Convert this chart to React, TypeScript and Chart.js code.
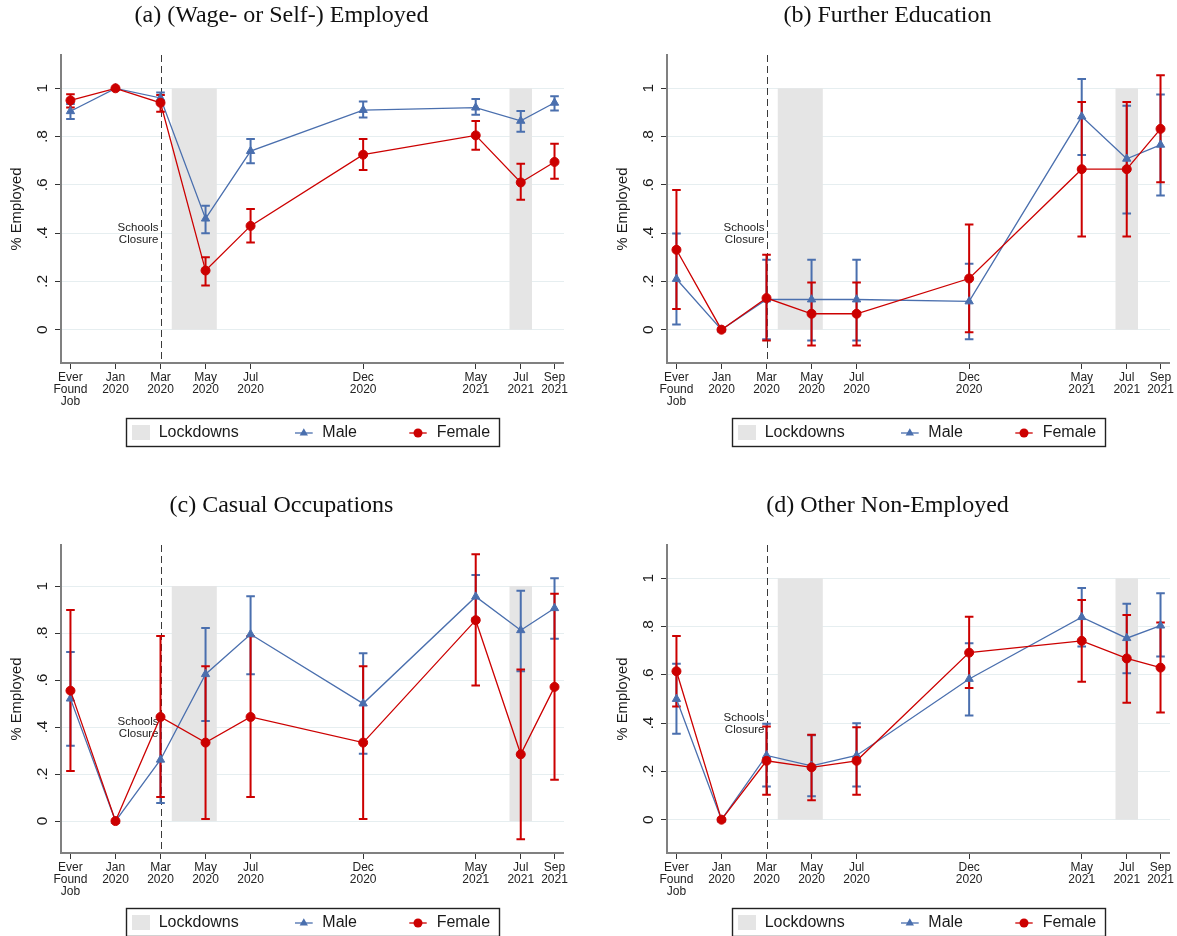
import React, { useEffect, useRef } from 'react';
import { Chart, registerables } from 'chart.js';

Chart.register(...registerables);

// ---------- data ----------
const xPositions = [-2, 0, 2, 4, 6, 11, 16, 18, 19.5];
const xTickLabels = [
  ['Ever', 'Found', 'Job'],
  ['Jan', '2020'],
  ['Mar', '2020'],
  ['May', '2020'],
  ['Jul', '2020'],
  ['Dec', '2020'],
  ['May', '2021'],
  ['Jul', '2021'],
  ['Sep', '2021'],
];
const yTickValues = [0, 0.2, 0.4, 0.6, 0.8, 1];
const yTickLabels = ['0', '.2', '.4', '.6', '.8', '1'];
const lockdownPeriods = [
  [2.5, 4.5],
  [17.5, 18.5],
];
const schoolsClosureX = 2;

const panelTitles = [
  '(a) (Wage- or Self-) Employed',
  '(b) Further Education',
  '(c) Casual Occupations',
  '(d) Other Non-Employed',
];

// (a) Wage- or Self-Employed
const aMale = [0.905, 1.0, 0.96, 0.46, 0.74, 0.91, 0.92, 0.865, 0.94];
const aMaleLo = [0.873, 1.0, 0.94, 0.4, 0.69, 0.879, 0.89, 0.82, 0.908];
const aMaleHi = [0.935, 1.0, 0.983, 0.513, 0.79, 0.945, 0.956, 0.906, 0.967];
const aFemale = [0.95, 1.0, 0.94, 0.245, 0.43, 0.725, 0.805, 0.61, 0.695];
const aFemaleLo = [0.92, 1.0, 0.903, 0.183, 0.361, 0.662, 0.745, 0.538, 0.625];
const aFemaleHi = [0.975, 1.0, 0.972, 0.3, 0.5, 0.79, 0.865, 0.687, 0.77];

// (b) Further Education
const bMale = [0.21, 0, 0.125, 0.125, 0.125, 0.117, 0.883, 0.708, 0.766];
const bMaleLo = [0.021, 0, -0.04, -0.045, -0.045, -0.04, 0.724, 0.481, 0.556];
const bMaleHi = [0.399, 0, 0.29, 0.29, 0.29, 0.273, 1.039, 0.928, 0.974];
const bFemale = [0.331, 0, 0.131, 0.066, 0.066, 0.212, 0.665, 0.665, 0.832];
const bFemaleLo = [0.086, 0, -0.045, -0.065, -0.065, -0.011, 0.386, 0.386, 0.611];
const bFemaleHi = [0.579, 0, 0.31, 0.195, 0.195, 0.436, 0.943, 0.943, 1.054];

// (c) Casual Occupations
const cMale = [0.521, 0, 0.261, 0.625, 0.795, 0.5, 0.955, 0.812, 0.906];
const cMaleLo = [0.32, 0, 0.077, 0.426, 0.625, 0.286, 0.863, 0.638, 0.776];
const cMaleHi = [0.72, 0, 0.445, 0.822, 0.957, 0.714, 1.047, 0.98, 1.033];
const cFemale = [0.555, 0, 0.443, 0.334, 0.443, 0.334, 0.855, 0.284, 0.571];
const cFemaleLo = [0.213, 0, 0.102, 0.009, 0.102, 0.009, 0.577, -0.078, 0.176];
const cFemaleHi = [0.898, 0, 0.788, 0.659, 0.787, 0.659, 1.136, 0.645, 0.967];

// (d) Other Non-Employed
const dMale = [0.5, 0, 0.266, 0.223, 0.266, 0.583, 0.839, 0.752, 0.804];
const dMaleLo = [0.356, 0, 0.138, 0.097, 0.138, 0.432, 0.717, 0.607, 0.676];
const dMaleHi = [0.646, 0, 0.397, 0.35, 0.4, 0.731, 0.96, 0.895, 0.938];
const dFemale = [0.615, 0, 0.244, 0.217, 0.244, 0.692, 0.741, 0.668, 0.63];
const dFemaleLo = [0.469, 0, 0.103, 0.081, 0.103, 0.546, 0.571, 0.484, 0.444];
const dFemaleHi = [0.761, 0, 0.386, 0.352, 0.383, 0.841, 0.91, 0.848, 0.817];

// ---------- styles ----------
const BLUE = '#4a6fae';
const RED = '#cc0000';
const SHADE = '#e5e5e5';
const GRID = '#e6eef0';
const AXIS = '#808080';
const TEXT = '#1a1a1a';
const SANS = '"Liberation Sans", Arial, Helvetica, sans-serif';
const SERIF = '"Liberation Serif", "Times New Roman", serif';

const X_MIN = -2.42;
const X_MAX = 19.92;

type PanelProps = {
  title: string;
  male: number[];
  maleLo: number[];
  maleHi: number[];
  female: number[];
  femaleLo: number[];
  femaleHi: number[];
  yMin: number;
  yMax: number;
  left: number;
  top: number;
  width: number;
  height: number;
};

function drawTriangle(ctx: CanvasRenderingContext2D, x: number, y: number, r: number) {
  ctx.beginPath();
  for (let k = 0; k < 3; k++) {
    const a = -Math.PI / 2 + (k * 2 * Math.PI) / 3;
    const px = x + Math.cos(a) * r;
    const py = y + Math.sin(a) * r;
    if (k === 0) ctx.moveTo(px, py);
    else ctx.lineTo(px, py);
  }
  ctx.closePath();
  ctx.fill();
}

function Panel(p: PanelProps) {
  const ref = useRef<HTMLCanvasElement | null>(null);
  useEffect(() => {
    const canvas = ref.current;
    if (!canvas) return;

    const panelPlugin = {
      id: 'panelDecor',
      beforeDatasetsDraw(chart: any) {
        const ctx = chart.ctx as CanvasRenderingContext2D;
        const xs = chart.scales.x;
        const ys = chart.scales.y;
        const area = chart.chartArea;
        ctx.save();
        // lockdown shading
        ctx.fillStyle = SHADE;
        lockdownPeriods.forEach(([a, b]) => {
          const x0 = xs.getPixelForValue(a);
          const x1 = xs.getPixelForValue(b);
          const y1 = ys.getPixelForValue(1);
          const y0 = ys.getPixelForValue(0);
          ctx.fillRect(x0, y1, x1 - x0, y0 - y1);
        });
        // schools closure dashed line
        const sx = Math.round(xs.getPixelForValue(schoolsClosureX)) + 0.5;
        ctx.strokeStyle = '#3a3a3a';
        ctx.lineWidth = 1;
        ctx.setLineDash([7, 4]);
        ctx.beginPath();
        ctx.moveTo(sx, area.top);
        ctx.lineTo(sx, area.bottom);
        ctx.stroke();
        ctx.setLineDash([]);
        // label
        ctx.fillStyle = '#222';
        ctx.font = `11.5px ${SANS}`;
        ctx.textAlign = 'right';
        ctx.textBaseline = 'middle';
        const ly = ys.getPixelForValue(0.396);
        ctx.fillText('Schools', sx - 3, ly - 6);
        ctx.fillText('Closure', sx - 3, ly + 6);
        // error bars
        const series = [
          { lo: p.maleLo, hi: p.maleHi, color: BLUE },
          { lo: p.femaleLo, hi: p.femaleHi, color: RED },
        ];
        series.forEach((s) => {
          ctx.strokeStyle = s.color;
          ctx.lineWidth = 2;
          xPositions.forEach((xv, i) => {
            const px = xs.getPixelForValue(xv);
            const pl = ys.getPixelForValue(s.lo[i]);
            const ph = ys.getPixelForValue(s.hi[i]);
            ctx.beginPath();
            ctx.moveTo(px, pl);
            ctx.lineTo(px, ph);
            ctx.moveTo(px - 4.3, pl);
            ctx.lineTo(px + 4.3, pl);
            ctx.moveTo(px - 4.3, ph);
            ctx.lineTo(px + 4.3, ph);
            ctx.stroke();
          });
        });
        ctx.restore();
      },
      afterDraw(chart: any) {
        const ctx = chart.ctx as CanvasRenderingContext2D;
        const ys = chart.scales.y;
        const area = chart.chartArea;
        ctx.save();
        // y tick labels (rotated)
        ctx.fillStyle = TEXT;
        ctx.font = `15.5px ${SANS}`;
        ctx.textAlign = 'center';
        ctx.textBaseline = 'middle';
        yTickValues.forEach((v, i) => {
          const py = ys.getPixelForValue(v);
          ctx.save();
          ctx.translate(43, py);
          ctx.rotate(-Math.PI / 2);
          ctx.fillText(yTickLabels[i], 0, 0);
          ctx.restore();
        });
        // y axis title
        ctx.save();
        ctx.font = `14.8px ${SANS}`;
        ctx.translate(17, (area.top + area.bottom) / 2);
        ctx.rotate(-Math.PI / 2);
        ctx.fillText('% Employed', 0, 0);
        ctx.restore();
        // panel title
        ctx.font = `24px ${SERIF}`;
        ctx.fillStyle = '#111';
        ctx.textAlign = 'center';
        ctx.textBaseline = 'middle';
        ctx.fillText(p.title, 281.5, 16);
        // legend
        const lx = 126.5;
        const ly = 418.5;
        ctx.fillStyle = '#fff';
        ctx.fillRect(lx, ly, 373, 28);
        ctx.strokeStyle = '#222';
        ctx.lineWidth = 1.4;
        ctx.strokeRect(lx, ly, 373, 28);
        const cy = 433;
        ctx.fillStyle = SHADE;
        ctx.fillRect(132, 425, 18, 15);
        ctx.fillStyle = TEXT;
        ctx.font = `16px ${SANS}`;
        ctx.textAlign = 'left';
        ctx.textBaseline = 'middle';
        ctx.fillText('Lockdowns', 158.7, cy);
        // male key
        ctx.strokeStyle = BLUE;
        ctx.lineWidth = 1.3;
        ctx.beginPath();
        ctx.moveTo(295, cy);
        ctx.lineTo(312.7, cy);
        ctx.stroke();
        ctx.fillStyle = BLUE;
        drawTriangle(ctx, 303.8, cy, 4.8);
        ctx.fillStyle = TEXT;
        ctx.fillText('Male', 322.3, cy);
        // female key
        ctx.strokeStyle = RED;
        ctx.beginPath();
        ctx.moveTo(409.3, cy);
        ctx.lineTo(426.7, cy);
        ctx.stroke();
        ctx.fillStyle = RED;
        ctx.beginPath();
        ctx.arc(418, cy, 4.5, 0, Math.PI * 2);
        ctx.fill();
        ctx.fillStyle = TEXT;
        ctx.fillText('Female', 436.7, cy);
        ctx.restore();
      },
    };

    const chart = new Chart(canvas, {
      type: 'line',
      data: {
        datasets: [
          {
            label: 'Male',
            data: xPositions.map((x, i) => ({ x, y: p.male[i] })),
            borderColor: BLUE,
            backgroundColor: BLUE,
            borderWidth: 1.3,
            pointStyle: 'triangle',
            pointRadius: 4.8,
            pointBorderWidth: 1,
            pointBackgroundColor: BLUE,
            pointBorderColor: BLUE,
            tension: 0,
            order: 2,
          },
          {
            label: 'Female',
            data: xPositions.map((x, i) => ({ x, y: p.female[i] })),
            borderColor: RED,
            backgroundColor: RED,
            borderWidth: 1.3,
            pointStyle: 'circle',
            pointRadius: 4.5,
            pointBorderWidth: 1,
            pointBackgroundColor: RED,
            pointBorderColor: RED,
            tension: 0,
            order: 1,
          },
        ],
      },
      options: {
        animation: false,
        responsive: false,
        events: [],
        layout: {
          padding: { left: 0, right: 7, top: 55, bottom: p.height - 363 - 60 },
        },
        plugins: {
          legend: { display: false },
          title: { display: false },
          tooltip: { enabled: false },
        },
        scales: {
          x: {
            type: 'linear',
            min: X_MIN,
            max: X_MAX,
            afterBuildTicks: (s: any) => {
              s.ticks = xPositions.map((v) => ({ value: v }));
            },
            afterFit: (s: any) => {
              s.height = 60;
            },
            ticks: {
              autoSkip: false,
              maxRotation: 0,
              minRotation: 0,
              padding: 3,
              color: '#222',
              font: { family: SANS, size: 12, lineHeight: 1.0 },
              callback: (_v: any, i: number) => xTickLabels[i],
            },
            grid: {
              drawOnChartArea: false,
              drawTicks: true,
              tickLength: 6,
              tickColor: '#333',
              tickWidth: 1,
            },
            border: { display: true, color: AXIS, width: 2 },
          },
          y: {
            type: 'linear',
            min: p.yMin,
            max: p.yMax,
            afterBuildTicks: (s: any) => {
              s.ticks = yTickValues.map((v) => ({ value: v }));
            },
            afterFit: (s: any) => {
              s.width = 61;
            },
            ticks: { display: false },
            grid: {
              color: GRID,
              lineWidth: 1,
              drawTicks: true,
              tickLength: 6,
              tickColor: '#333',
              tickWidth: 1,
            },
            border: { display: true, color: AXIS, width: 2 },
          },
        },
      },
      plugins: [panelPlugin],
    } as any);
    return () => chart.destroy();
  }, []);

  return (
    <canvas
      ref={ref}
      width={p.width}
      height={p.height}
      style={{ position: 'absolute', left: p.left, top: p.top, width: p.width, height: p.height }}
    />
  );
}

export default function App() {
  return (
    <div style={{ position: 'relative', width: 1177, height: 936, background: '#fff', overflow: 'hidden' }}>
      <style>{'body{margin:0;background:#fff;}'}</style>
      <Panel
        title={panelTitles[0]}
        male={aMale}
        maleLo={aMaleLo}
        maleHi={aMaleHi}
        female={aFemale}
        femaleLo={aFemaleLo}
        femaleHi={aFemaleHi}
        yMin={-0.138}
        yMax={1.138}
        left={0}
        top={0}
        width={571}
        height={490}
      />
      <Panel
        title={panelTitles[1]}
        male={bMale}
        maleLo={bMaleLo}
        maleHi={bMaleHi}
        female={bFemale}
        femaleLo={bFemaleLo}
        femaleHi={bFemaleHi}
        yMin={-0.138}
        yMax={1.138}
        left={606}
        top={0}
        width={571}
        height={490}
      />
      <Panel
        title={panelTitles[2]}
        male={cMale}
        maleLo={cMaleLo}
        maleHi={cMaleHi}
        female={cFemale}
        femaleLo={cFemaleLo}
        femaleHi={cFemaleHi}
        yMin={-0.136}
        yMax={1.175}
        left={0}
        top={490}
        width={571}
        height={446}
      />
      <Panel
        title={panelTitles[3]}
        male={dMale}
        maleLo={dMaleLo}
        maleHi={dMaleHi}
        female={dFemale}
        femaleLo={dFemaleLo}
        femaleHi={dFemaleHi}
        yMin={-0.138}
        yMax={1.138}
        left={606}
        top={490}
        width={571}
        height={446}
      />
    </div>
  );
}
